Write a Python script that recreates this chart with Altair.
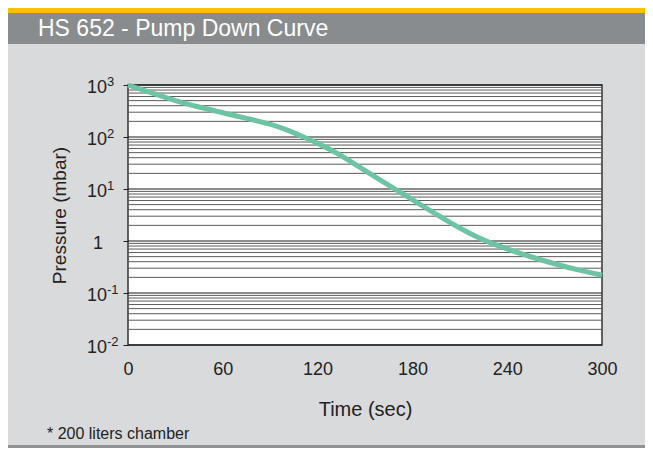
import altair as alt
import pandas as pd

# ---- data ----
time_sec = [0, 15, 30, 45, 60, 75, 90, 100, 110, 120, 130, 140, 150, 160, 170, 180, 190, 200, 210, 220, 230, 240, 255, 270, 285, 300]
pressure_mbar = [1000, 708, 495, 376, 292, 229, 178, 140, 103.5, 75.9, 53.7, 35.5, 22.6, 14.6, 9.55, 6.24, 4.07, 2.66, 1.76, 1.22, 0.90, 0.70, 0.495, 0.363, 0.275, 0.221]

x_ticks = [0, 60, 120, 180, 240, 300]
y_decades = [1000, 100, 10, 1, 0.1, 0.01]
y_label_base = ["10", "10", "10", "", "10", "10"]
y_label_exp = ["3", "2", "1", "", "-1", "-2"]
y_label_plain = ["", "", "", "1", "", ""]
minor_mults = [2, 3, 4, 5, 6, 7, 8, 9]

title_text = "HS 652 - Pump Down Curve"
x_title = "Time (sec)"
y_title = "Pressure (mbar)"
footnote = "* 200 liters chamber"

W, H = 474, 260
FONT = "Liberation Sans"
INK = "#222222"

curve = pd.DataFrame({"t": time_sec, "p": pressure_mbar})
decades = pd.DataFrame({"p": y_decades, "base": y_label_base, "exp": y_label_exp, "plain": y_label_plain})
minors = pd.DataFrame({"p": [m * d for d in y_decades[1:] for m in minor_mults]})
one = pd.DataFrame({"a": [0]})

xscale = alt.Scale(domain=[0, 300], nice=False)
yscale = alt.Scale(type="log", domain=[0.01, 1000], nice=False)

# decorations (header bands, bottom rule)
yellow = alt.Chart(one).mark_rect(color="#fdbf00").encode(
    x=alt.value(-120), x2=alt.value(525), y=alt.value(-77), y2=alt.value(-72))
header = alt.Chart(one).mark_rect(color="#898c8e").encode(
    x=alt.value(-120), x2=alt.value(525), y=alt.value(-72), y2=alt.value(-41))
bottom_rule = alt.Chart(one).mark_rect(color="#8f9193").encode(
    x=alt.value(-120), x2=alt.value(525), y=alt.value(360), y2=alt.value(363))
title = alt.Chart(one).mark_text(
    text=title_text, color="white", font=FONT, fontSize=23, align="left", baseline="alphabetic"
).encode(x=alt.value(-90), y=alt.value(-49))
note = alt.Chart(one).mark_text(
    text=footnote, color=INK, font=FONT, fontSize=16, align="left", baseline="alphabetic"
).encode(x=alt.value(-81), y=alt.value(354))

minor_rules = alt.Chart(minors).mark_rule(color="#5a5a5a", strokeWidth=1).encode(
    y=alt.Y("p:Q", scale=yscale), x=alt.value(0), x2=alt.value(W))
decade_rules = alt.Chart(decades).mark_rule(color="#1a1a1a", strokeWidth=1).encode(
    y=alt.Y("p:Q", scale=yscale), x=alt.value(0), x2=alt.value(W))

# y tick labels: base "10" plus raised exponent
lab_base = alt.Chart(decades).mark_text(
    font=FONT, fontSize=18, color=INK, align="right", baseline="alphabetic", dy=8
).encode(y=alt.Y("p:Q", scale=yscale), x=alt.value(-21), text="base:N")
lab_exp = alt.Chart(decades).mark_text(
    font=FONT, fontSize=13, color=INK, align="left", baseline="alphabetic", dy=1
).encode(y=alt.Y("p:Q", scale=yscale), x=alt.value(-21), text="exp:N")
lab_plain = alt.Chart(decades).mark_text(
    font=FONT, fontSize=18, color=INK, align="center", baseline="alphabetic", dy=8
).encode(y=alt.Y("p:Q", scale=yscale), x=alt.value(-30), text="plain:N")

line = alt.Chart(curve).mark_line(color="#6cc4a4", strokeWidth=5, interpolate="basis").encode(
    x=alt.X("t:Q", scale=xscale,
            axis=alt.Axis(values=x_ticks, title=x_title, grid=False, ticks=False, domain=False,
                          labelFlush=False, labelFontSize=18, labelFont=FONT, labelColor=INK, labelPadding=15,
                          titleFont=FONT, titleFontSize=20, titleFontWeight="normal", titleColor=INK,
                          titleBaseline="alphabetic", titleX=W / 2, titleY=70)),
    y=alt.Y("p:Q", scale=yscale,
            axis=alt.Axis(values=y_decades, labels=False, title=y_title, grid=False,
                          ticks=True, tickSize=5, tickColor=INK, domain=False,
                          titleFont=FONT, titleFontSize=19, titleFontWeight="normal", titleColor=INK,
                          titleAngle=270, titleBaseline="alphabetic", titleX=-63, titleY=H / 2)),
)

chart = alt.layer(yellow, header, bottom_rule, title, note, minor_rules, decade_rules,
                  lab_base, lab_exp, lab_plain, line).properties(
    width=W, height=H,
    autosize=alt.AutoSizeParams(type="none"),
    padding={"left": 120, "top": 77, "right": 43, "bottom": 103},
    background="#d9dadb",
).configure_view(fill="white", stroke="#333333", strokeWidth=1.5)

chart.save("out.html", embed_options={"renderer": "svg", "actions": False})
